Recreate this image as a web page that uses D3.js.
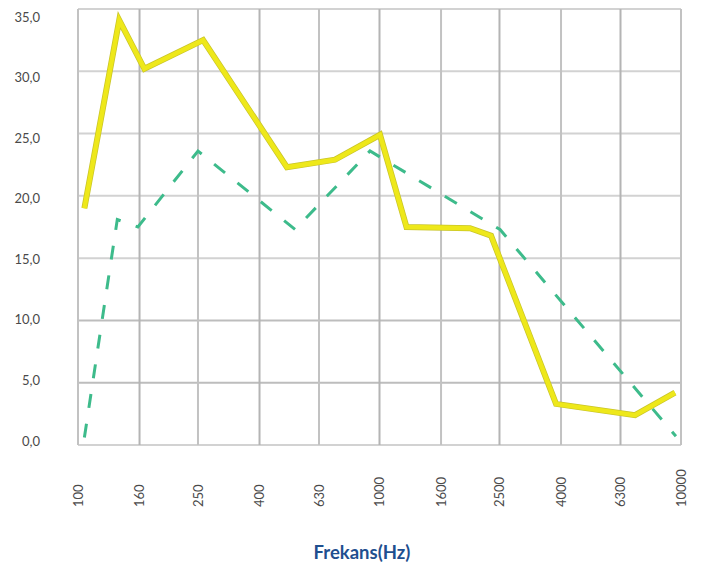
<!DOCTYPE html>
<html lang="en">
    <head>
        <script src="https://d3js.org/d3.v7.min.js"></script>
        <meta charset="UTF-8">
        <title>Frekans</title>
        <style>
            body {
            margin: 0;
            background-color: #ffffff;
            }
            .tick-label {
            font-family: Lato, "Open Sans", sans-serif;
            font-size: 13px;
            fill: #4a4a4a;
            }
        </style>
    </head>
    <body>
        <div id="chart"></div>

        <script>
            // tick labels
            const freqTicks = [100, 160, 250, 400, 630, 1000, 1600, 2500, 4000, 6300, 10000];
            const yTicks = [0, 5, 10, 15, 20, 25, 30, 35];

            // yellow (solid) series
            const yellowFreq = [105, 137, 166, 260, 493, 712, 1004, 1229, 1996, 2344, 3850, 7040, 9550];
            const yellowValues = [19.0, 34.1, 30.2, 32.5, 22.3, 22.9, 24.9, 17.5, 17.4, 16.8, 3.3, 2.4, 4.2];

            // green (dashed) series
            const greenFreq = [105, 135, 158, 250, 525, 930, 2510, 9620];
            const greenValues = [0.6, 18.1, 17.5, 23.6, 17.3, 23.6, 17.3, 0.7];

            const width = 709;
            const height = 565;
            const margin = { top: 9, right: 28, bottom: 120, left: 78 };
            const innerWidth = width - margin.left - margin.right;
            const innerHeight = 436;

            const svg = d3.select("#chart")
                          .append("svg")
                          .attr("width", width)
                          .attr("height", height);

            const chart = svg.append("g")
                             .attr("transform", `translate(${margin.left},${margin.top})`);

            const xScale = d3.scaleLog()
                             .domain([100, 10000])
                             .range([0, innerWidth]);

            const yScale = d3.scaleLinear()
                             .domain([0, 35])
                             .range([innerHeight, 0]);

            // labels on the y side sit a little off the grid in the original
            const yLabelScale = d3.scaleLinear()
                                  .domain([0, 35])
                                  .range([innerHeight - 4, 8]);

            // horizontal grid
            chart.append("g")
                 .selectAll("line")
                 .data(yTicks)
                 .enter()
                 .append("line")
                 .attr("x1", 0)
                 .attr("x2", innerWidth)
                 .attr("y1", d => yScale(d))
                 .attr("y2", d => yScale(d))
                 .attr("stroke", d => (d === 5 || d === 10) ? "#bdbdbd" : "#d2d2d2")
                 .attr("stroke-width", 2);

            // vertical grid
            chart.append("g")
                 .selectAll("line")
                 .data(freqTicks)
                 .enter()
                 .append("line")
                 .attr("x1", d => xScale(d))
                 .attr("x2", d => xScale(d))
                 .attr("y1", 0)
                 .attr("y2", innerHeight)
                 .attr("stroke", (d, i) => i % 2 === 0 ? "#c2c2c2" : "#b4b4b4")
                 .attr("stroke-width", 2);

            // y labels
            svg.append("g")
               .selectAll("text")
               .data(yTicks)
               .enter()
               .append("text")
               .attr("class", "tick-label")
               .attr("x", 40)
               .attr("y", d => margin.top + yLabelScale(d))
               .attr("dy", "0.35em")
               .attr("text-anchor", "end")
               .text(d => d3.format(".1f")(d).replace(".", ","));

            // x labels (rotated)
            svg.append("g")
               .selectAll("text")
               .data(freqTicks)
               .enter()
               .append("text")
               .attr("class", "tick-label")
               .attr("transform", d => `translate(${margin.left + xScale(d)},507) rotate(-90)`)
               .attr("dy", "0.35em")
               .attr("text-anchor", "start")
               .text(d => d);

            const line = d3.line()
                           .x(d => xScale(d[0]))
                           .y(d => yScale(d[1]));

            chart.append("path")
                 .datum(greenFreq.map((f, i) => [f, greenValues[i]]))
                 .attr("fill", "none")
                 .attr("stroke", "#3dbb8b")
                 .attr("stroke-width", 3)
                 .attr("stroke-dasharray", "14,16")
                 .attr("d", line);

            chart.append("path")
                 .datum(yellowFreq.map((f, i) => [f, yellowValues[i]]))
                 .attr("fill", "none")
                 .attr("stroke", "#c9c52a")
                 .attr("stroke-width", 6)
                 .attr("d", line);

            chart.append("path")
                 .datum(yellowFreq.map((f, i) => [f, yellowValues[i]]))
                 .attr("fill", "none")
                 .attr("stroke", "#eee81a")
                 .attr("stroke-width", 4.5)
                 .attr("d", line);

            svg.append("text")
               .attr("x", 362)
               .attr("y", 553)
               .attr("dy", "0.35em")
               .attr("text-anchor", "middle")
               .attr("font-family", "Lato, sans-serif")
               .attr("font-weight", "bold")
               .attr("font-size", "18.5px")
               .attr("fill", "#1f4f8f")
               .text("Frekans(Hz)");
        </script>
    </body>
</html>
